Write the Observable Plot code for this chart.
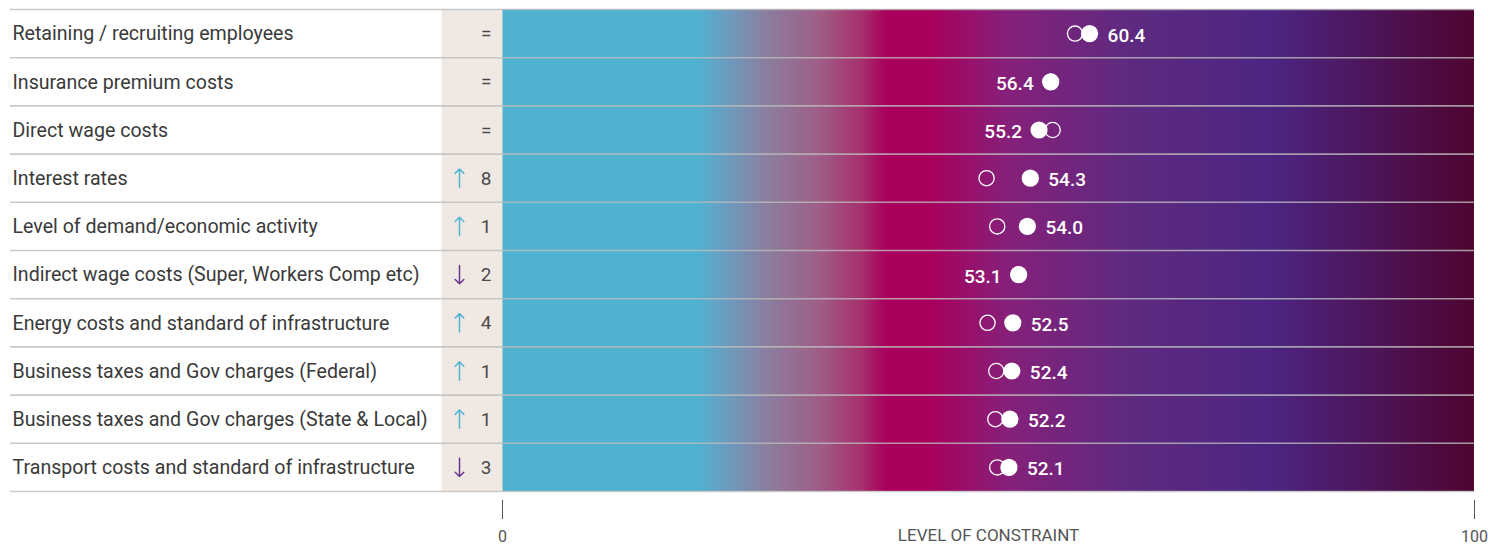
<!DOCTYPE html>
<html>
<head>
<meta charset="utf-8">
<script src="https://cdn.jsdelivr.net/npm/d3@7"></script>
<script src="https://cdn.jsdelivr.net/npm/@observablehq/plot@0.6"></script>
<style>
  html, body { margin: 0; padding: 0; background: #ffffff; }
  #chart svg { display: block; }
</style>
</head>
<body>
<div id="chart"></div>
<script>
// ---- data ----
const categories = [
  "Retaining / recruiting employees",
  "Insurance premium costs",
  "Direct wage costs",
  "Interest rates",
  "Level of demand/economic activity",
  "Indirect wage costs (Super, Workers Comp etc)",
  "Energy costs and standard of infrastructure",
  "Business taxes and Gov charges (Federal)",
  "Business taxes and Gov charges (State & Local)",
  "Transport costs and standard of infrastructure"
];
const current  = [60.4, 56.4, 55.2, 54.3, 54.0, 53.1, 52.5, 52.4, 52.2, 52.1];
const previous = [58.9, 56.4, 56.6, 49.8, 50.9, 53.1, 49.9, 50.8, 50.7, 50.9];
const rankDirection = ["=", "=", "=", "up", "up", "down", "up", "up", "up", "down"];
const rankMove = [null, null, null, 8, 1, 2, 4, 1, 1, 3];
const axisTicks = [0, 100];
const axisTitle = "LEVEL OF CONSTRAINT";

// ---- styling ----
const gradientStops = [
  [0, "#4fb2d1"], [20, "#4fb2d1"], [23, "#6a9dc0"], [27, "#8a80a0"],
  [33, "#a05a84"], [37, "#a6306c"], [39.5, "#a8005c"], [44, "#a8005c"],
  [52, "#86207a"], [64, "#5f2a80"], [79, "#4c2582"], [100, "#4e0430"]
];
const upColor = "#4fb2d1", downColor = "#6b3590";
const beige = "#f0e9e3";

const rows = categories.map((c, i) => ({
  cat: c, cur: current[i], prev: previous[i],
  dir: rankDirection[i], move: rankMove[i], row: i
}));
const yc = d => d.row + 0.5;
const nRows = rows.length;

function gradientDefs() {
  const ns = "http://www.w3.org/2000/svg";
  const defs = document.createElementNS(ns, "defs");
  const lg = document.createElementNS(ns, "linearGradient");
  lg.setAttribute("id", "constraintGrad");
  lg.setAttribute("x1", "0"); lg.setAttribute("x2", "1");
  lg.setAttribute("y1", "0"); lg.setAttribute("y2", "0");
  for (const [o, c] of gradientStops) {
    const s = document.createElementNS(ns, "stop");
    s.setAttribute("offset", o + "%");
    s.setAttribute("stop-color", c);
    lg.appendChild(s);
  }
  defs.appendChild(lg);
  return defs;
}

const halfArrow = 0.19;
const arrowRows = rows.filter(d => d.dir !== "=");

const chart = Plot.plot({
  width: 1488,
  height: 544,
  marginLeft: 10,
  marginRight: 14,
  marginTop: 9,
  marginBottom: 44,
  style: { fontFamily: "Roboto, sans-serif", fontSize: "16px", color: "#555555", background: "#ffffff", overflow: "visible" },
  x: {
    domain: [0, 100], range: [502, 1474],
    ticks: axisTicks, tickSize: 19, tickPadding: 11,
    tickFormat: d => String(d), label: null
  },
  y: { domain: [0, nRows], range: [9, 491], axis: null },
  marks: [
    gradientDefs,
    // gradient band
    Plot.rect([{}], { x1: 0, x2: 100, y1: 0, y2: nRows, fill: "url(#constraintGrad)" }),
    // beige rank column
    Plot.ruleX([0], { y1: 0, y2: nRows, dx: -30.5, stroke: beige, strokeWidth: 61 }),
    // row separators
    Plot.ruleY(d3.range(nRows + 1), { stroke: "#bcbcbc", strokeOpacity: 0.8, strokeWidth: 1.6 }),
    // category labels
    Plot.text(rows, {
      y: yc, text: "cat", frameAnchor: "left", textAnchor: "start", dx: 2, dy: 0.5,
      fontSize: 19.6, fill: "#3a3a3a"
    }),
    // rank change numbers / equals
    Plot.text(rows, {
      x: 0, y: yc, text: d => d.dir === "=" ? "=" : String(d.move),
      textAnchor: "end", dx: -11, dy: 0.5, fontSize: 19, fill: "#4a4a4a"
    }),
    // rank change arrows
    Plot.arrow(arrowRows, {
      x1: 0, x2: 0,
      y1: d => d.dir === "up" ? yc(d) + halfArrow : yc(d) - halfArrow,
      y2: d => d.dir === "up" ? yc(d) - halfArrow : yc(d) + halfArrow,
      dx: -43, stroke: d => d.dir === "up" ? upColor : downColor,
      strokeWidth: 1.5, headAngle: 90, headLength: 10.5
    }),
    // previous (hollow)
    Plot.dot(rows, { x: "prev", y: yc, r: 7.6, fill: "none", stroke: "white", strokeWidth: 1.3 }),
    // current (filled)
    Plot.dot(rows, { x: "cur", y: yc, r: 8.6, fill: "white" }),
    // value labels
    Plot.text(rows.filter(d => d.prev < d.cur), {
      x: "cur", y: yc, text: d => d.cur.toFixed(1), textAnchor: "start", dx: 18, dy: 2,
      fill: "white", fontSize: 19, fontWeight: 500
    }),
    Plot.text(rows.filter(d => !(d.prev < d.cur)), {
      x: "cur", y: yc, text: d => d.cur.toFixed(1), textAnchor: "end", dx: -17, dy: 2,
      fill: "white", fontSize: 19, fontWeight: 500
    }),
    // axis title
    Plot.text([axisTitle], {
      x: d3.mean(axisTicks), frameAnchor: "bottom", dy: 40, text: d => d,
      fontSize: 17, fill: "#555555"
    })
  ]
});

document.getElementById("chart").appendChild(chart);
</script>
</body>
</html>
